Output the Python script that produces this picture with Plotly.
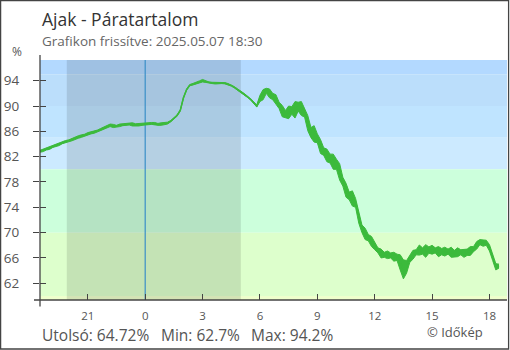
import pandas as pd
import plotly.graph_objects as go

# Relative humidity in Ajak, 10-minute readings, 2025-05-06 18:30 .. 2025-05-07 18:30
times = pd.date_range("2025-05-06 18:30", "2025-05-07 18:30", freq="10min")

hum = [
    82.85, 83.0, 83.2, 83.35, 83.6, 83.8, 84.0, 84.2, 84.35, 84.5,
    84.7, 84.9, 85.1, 85.25, 85.4, 85.6, 85.75, 85.9, 86.05, 86.25,
    86.5, 86.7, 86.95, 86.85, 86.8, 86.95, 87.05, 87.1, 87.15, 87.1,
    87.0, 87.05, 87.1, 87.15, 87.25, 87.25, 87.2, 87.1, 87.15, 87.2,
    87.3, 87.6, 88.0, 88.5, 89.3, 91.3, 92.6, 93.3, 93.45, 93.6,
    93.85, 94.0, 93.85, 93.7, 93.65, 93.6, 93.65, 93.65, 93.6, 93.45,
    93.25, 92.95, 92.6, 92.3, 91.9, 91.5, 91.1, 90.6, 90.0, 91.2,
    91.8, 92.4, 92.0, 91.5, 91.0, 90.1, 89.2, 88.7, 89.0, 89.3,
    89.4, 89.9, 89.6, 88.85, 87.3, 85.8, 85.6, 84.9, 83.6, 82.8,
    82.2, 81.7, 81.2, 80.8, 79.6, 78.05, 76.7, 75.8, 75.4, 74.7,
    72.5, 70.6, 69.8, 69.2, 68.6, 67.9, 67.2, 66.7, 66.5, 66.5,
    66.4, 66.2, 66.1, 65.3, 64.2, 64.6, 65.8, 66.5, 66.9, 67.25,
    67.1, 67.1, 67.25, 67.3, 67.2, 67.0, 67.0, 67.0, 67.0, 66.9,
    66.7, 66.9, 66.9, 66.7, 66.9, 67.1, 67.4, 68.0, 68.5, 68.35,
    68.4, 67.6, 66.0, 64.6, 64.72,
]

# Half-width of the short-term fluctuation within each 10-minute slot (%)
jit = [
    0.15, 0.2, 0.15, 0.2, 0.15, 0.2, 0.25, 0.15, 0.2, 0.15,
    0.2, 0.15, 0.2, 0.2, 0.15, 0.2, 0.15, 0.2, 0.15, 0.2,
    0.2, 0.15, 0.2, 0.25, 0.15, 0.2, 0.15, 0.2, 0.15, 0.25,
    0.2, 0.2, 0.15, 0.2, 0.2, 0.15, 0.2, 0.15, 0.2, 0.15,
    0.15, 0.1, 0.1, 0.1, 0.1, 0.1, 0.1, 0.1, 0.12, 0.12,
    0.12, 0.2, 0.12, 0.1, 0.1, 0.12, 0.1, 0.1, 0.1, 0.1,
    0.1, 0.1, 0.1, 0.1, 0.1, 0.1, 0.1, 0.1, 0.15, 0.5,
    0.8, 0.4, 0.7, 0.5, 0.8, 0.5, 0.9, 0.6, 1.0, 0.6,
    1.3, 0.7, 1.1, 0.6, 1.2, 0.8, 1.3, 0.7, 1.1, 0.6,
    1.0, 0.7, 1.2, 0.8, 1.3, 0.7, 1.1, 0.6, 1.2, 0.7,
    1.0, 0.6, 0.9, 0.5, 0.8, 0.6, 0.4, 0.7, 0.4, 0.6,
    0.4, 0.7, 0.5, 1.2, 1.5, 1.0, 0.5, 0.7, 0.4, 0.8,
    0.5, 1.0, 0.5, 0.7, 0.4, 0.8, 0.5, 0.7, 0.4, 0.8,
    0.5, 0.7, 0.4, 0.6, 0.5, 0.7, 0.4, 0.6, 0.4, 0.5,
    0.4, 0.5, 0.4, 0.5, 0.3,
]

y_ticks = [62, 66, 70, 74, 78, 82, 86, 90, 94]

sunset = "2025-05-06 19:54"
sunrise = "2025-05-07 05:00"
midnight = "2025-05-07 00:00"

low = [h - j for h, j in zip(hum, jit)]
high = [h + j for h, j in zip(hum, jit)]
last_val = hum[-1]
min_val = min(low)
max_val = max(high)

# ---- layout constants ----
W, H = 510, 350
ML, MR, MT, MB = 40, 3, 60, 50
PW, PH = W - ML - MR, H - MT - MB
Y_MIN, Y_MAX = 59.36, 97.27
X_RANGE = ["2025-05-06 18:30", "2025-05-07 18:55"]

band_edges = [Y_MAX, 95, 90, 85, 80, 70, 60, Y_MIN]
band_colors = ["#b3d9ff", "#bbdefb", "#bfe4ff", "#cceaff", "#ccffdc", "#ddffcc", "#eeffcc"]

AXIS = "#444444"
TEXT = "#555555"
GREEN = "#3cba3c"
FONT = "Open Sans"


def px(x):
    return (x - ML) / PW


def py(y):
    return (H - MB - y) / PH


fig = go.Figure()

# fluctuation envelope
fig.add_trace(go.Scatter(
    x=times, y=low, mode="lines", line=dict(color=GREEN, width=1),
    hoverinfo="skip", showlegend=False,
))
fig.add_trace(go.Scatter(
    x=times, y=high, mode="lines", line=dict(color=GREEN, width=1),
    fill="tonexty", fillcolor=GREEN, hoverinfo="skip", showlegend=False,
))
# humidity curve
fig.add_trace(go.Scatter(
    x=times, y=hum, mode="lines", line=dict(color=GREEN, width=1.5),
    hoverinfo="x+y", showlegend=False,
))
# carrier for the inner tick marks of the value axis
fig.add_trace(go.Scatter(
    x=[times[0]], y=[hum[0]], yaxis="y2", mode="markers",
    marker=dict(opacity=0), hoverinfo="skip", showlegend=False,
))

shapes = []
for top, bottom, color in zip(band_edges[:-1], band_edges[1:], band_colors):
    shapes.append(dict(type="rect", xref="paper", yref="y", x0=0, x1=1, y0=bottom, y1=top,
                       fillcolor=color, line=dict(width=0), layer="below"))
shapes.append(dict(type="rect", xref="x", yref="paper", x0=sunset, x1=sunrise, y0=0, y1=1,
                   fillcolor="rgba(0,0,0,0.11)", line=dict(width=0), layer="below"))
shapes.append(dict(type="line", xref="x", yref="paper", x0=midnight, x1=midnight, y0=0, y1=1,
                   line=dict(color="#3a8fc8", width=1.2), layer="below"))
# axis lines, slightly overshooting the plot area
shapes.append(dict(type="line", xref="paper", yref="paper", x0=px(34), x1=1, y0=0, y1=0,
                   line=dict(color=AXIS, width=1.3)))
shapes.append(dict(type="line", xref="paper", yref="paper", x0=0, x1=0, y0=py(306.5), y1=py(55),
                   line=dict(color=AXIS, width=1.3)))
# outer frame
shapes.append(dict(type="rect", xref="paper", yref="paper", x0=px(0.6), x1=px(508.6),
                   y0=py(349), y1=py(0.6), line=dict(color=AXIS, width=1.3)))

annotations = [
    dict(text="Ajak - Páratartalom", x=px(40), y=py(19), xanchor="left", yanchor="middle",
         font=dict(size=17.5, color="#333333", family=FONT)),
    dict(text="Grafikon frissítve: 2025.05.07 18:30", x=px(40), y=py(41), xanchor="left",
         yanchor="middle", font=dict(size=13.5, color="#666666", family=FONT)),
    dict(text="%", x=px(16.7), y=py(52), xanchor="center", yanchor="middle",
         font=dict(size=12, color=TEXT, family=FONT)),
    dict(text=f"Utolsó: {last_val:.2f}%", x=px(40), y=py(334.5), xanchor="left", yanchor="middle",
         font=dict(size=15.5, color=TEXT, family=FONT)),
    dict(text=f"Min: {min_val:.1f}%", x=px(158.5), y=py(334.5), xanchor="left", yanchor="middle",
         font=dict(size=15.5, color=TEXT, family=FONT)),
    dict(text=f"Max: {max_val:.1f}%", x=px(248.5), y=py(334.5), xanchor="left", yanchor="middle",
         font=dict(size=15.5, color=TEXT, family=FONT)),
    dict(text="© Időkép", x=px(425), y=py(331.5), xanchor="left", yanchor="middle",
         font=dict(size=13, color=TEXT, family=FONT)),
]
for a in annotations:
    a.update(xref="paper", yref="paper", showarrow=False)

fig.update_layout(
    width=W, height=H,
    margin=dict(l=ML, r=MR, t=MT, b=MB, pad=0),
    paper_bgcolor="white", plot_bgcolor="white",
    font=dict(family=FONT, color=TEXT),
    showlegend=False,
    shapes=shapes,
    annotations=annotations,
    xaxis=dict(
        type="date", range=X_RANGE, tickformat="%-H",
        tick0=midnight, dtick=3 * 3600 * 1000,
        ticks="inside", ticklen=6, tickwidth=1.3, tickcolor=AXIS,
        showgrid=False, zeroline=False, showline=False,
        tickfont=dict(size=11.5, color=TEXT, family=FONT),
        ticklabelstandoff=7,
    ),
    yaxis=dict(
        range=[Y_MIN, Y_MAX], tickmode="array", tickvals=y_ticks,
        ticks="outside", ticklen=6, tickwidth=1.3, tickcolor=AXIS,
        showgrid=False, zeroline=False, showline=False,
        tickfont=dict(size=13.5, color=TEXT, family=FONT),
        ticklabelstandoff=11,
    ),
    yaxis2=dict(
        overlaying="y", side="left", range=[Y_MIN, Y_MAX], tickmode="array", tickvals=y_ticks,
        ticks="inside", ticklen=6, tickwidth=1.3, tickcolor=AXIS,
        showticklabels=False, showgrid=False, zeroline=False, showline=False,
    ),
)

fig.write_html("out.html")
